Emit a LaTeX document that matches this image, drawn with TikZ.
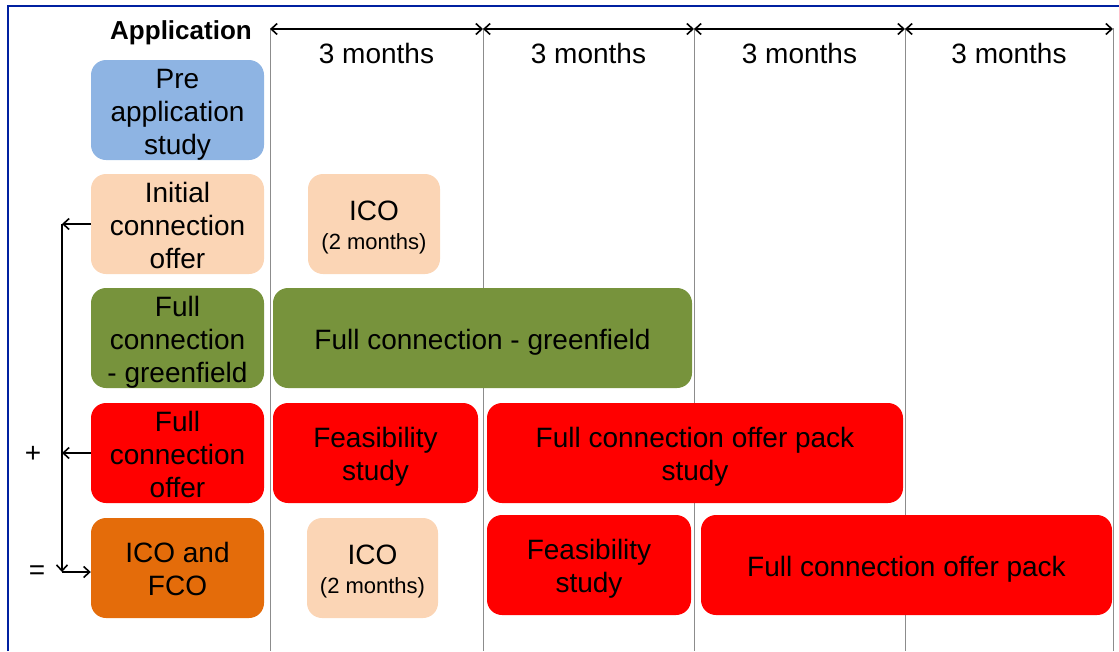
\documentclass[tikz,border=0pt]{standalone}
\usepackage{fontspec}
\setmainfont{Liberation Sans}
\usetikzlibrary{arrows.meta, positioning}

\definecolor{preblue}{RGB}{142,180,227}
\definecolor{peach}{RGB}{251,213,181}
\definecolor{olive}{RGB}{119,147,60}
\definecolor{offerred}{RGB}{255,0,0}
\definecolor{darkorange}{RGB}{228,108,10}
\definecolor{framebl}{RGB}{0,32,160}

% strut for the first line of a box
\newcommand{\topstrut}{\rule{0pt}{28pt}}

\tikzset{
  box/.style={rectangle, rounded corners=15pt, draw=none, align=center,
    inner xsep=2pt, inner ysep=0pt, minimum height=100pt,
    font=\fontsize{28}{33}\selectfont,
    execute at end node={\rule[-6pt]{0pt}{6pt}}},
  colline/.style={draw=gray!90, line width=1pt},
  span/.style={{Straight Barb[length=6pt,width=11pt]}-{Straight Barb[length=6pt,width=11pt]}, line width=1.6pt},
  link/.style={-{Straight Barb[length=6pt,width=11pt]}, line width=1.6pt},
}

\begin{document}
\begin{tikzpicture}[x=1pt, y=-1pt]
\useasboundingbox (0,0) rectangle (1119,651);

% frame
\draw[framebl, line width=2pt] (8,651) -- (8,6) -- (1119,6);

% time columns
\foreach \x in {270,483,694,905,1113}
    \draw[colline] (\x,28) -- (\x,651);
\foreach \a/\b [count=\i] in {270/483, 483/694, 694/905, 905/1113} {
    \draw[span] (\a,29) -- (\b,29);
    \node[font=\fontsize{28}{34}\selectfont] (m\i) at ({(\a+\b)/2},53) {3 months};
}

\node[font=\fontsize{26}{30}\selectfont\bfseries] (app) at (181,33) {Application};

% application types
\node[box, fill=preblue, minimum width=173pt] (pre) at (177.5,110) {\topstrut Pre\\application\\study};
\node[box, fill=peach, minimum width=173pt] (ico) at (177.5,224) {\topstrut Initial\\connection\\offer};
\node[box, fill=olive, minimum width=173pt] (fcg) at (177.5,338) {\topstrut Full\\connection\\- greenfield};
\node[box, fill=offerred, minimum width=173pt] (fco) at (177.5,453) {\topstrut Full\\connection\\offer};
\node[box, fill=darkorange, minimum width=173pt] (both) at (177.5,568) {\topstrut ICO and\\FCO};

% timeline bars
\node[box, fill=peach, minimum width=132pt] (icoA) at (374,224)
    {\topstrut ICO\\[-4pt]{\fontsize{22}{26}\selectfont (2 months)}};
\node[box, fill=olive, minimum width=419pt] (fcgBar) at (482.5,338) {\topstrut Full connection - greenfield};
\node[box, fill=offerred, minimum width=205pt] (feasA) at (375.5,453) {\topstrut Feasibility\\study};
\node[box, fill=offerred, minimum width=416pt] (packA) at (695,453) {\topstrut Full connection offer pack\\study};
\node[box, fill=peach, minimum width=131pt] (icoB) at (372.5,568)
    {\topstrut ICO\\[-4pt]{\fontsize{22}{26}\selectfont (2 months)}};
\node[box, fill=offerred, minimum width=204pt] (feasB) at (589,565) {\topstrut Feasibility\\study};
\node[box, fill=offerred, minimum width=411pt] (packB) at (906.5,565) {\topstrut Full connection offer pack};

% combining ICO + FCO
\coordinate (jtop) at (62,224);
\coordinate (jmid) at (62,453);
\coordinate (jbot) at (62,572);
\draw[link] (ico.west) -- (jtop);
\draw[link] (fco.west) -- (jmid);
\draw[link] (jtop) -- (jbot);
\draw[link] (jbot) -- (jbot -| both.west);

\node[font=\fontsize{28}{34}\selectfont] (plus) at (33,454) {+};
\node[font=\fontsize{28}{34}\selectfont] (eq) at (37,573) {=};
\end{tikzpicture}
\end{document}
